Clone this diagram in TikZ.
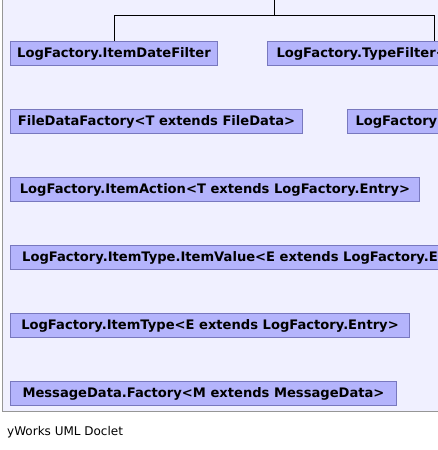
\documentclass[tikz,border=0pt]{standalone}
\usepackage{fontspec}
\setmainfont{DejaVu Sans}
\definecolor{panelfill}{RGB}{240,240,255}
\definecolor{panelline}{RGB}{150,150,150}
\definecolor{boxfill}{RGB}{180,180,252}
\definecolor{boxline}{RGB}{120,120,190}
\tikzset{
  umlbox/.style={draw=boxline, fill=boxfill, line width=1pt, anchor=north west,
    font=\bfseries\fontsize{13.1}{15}\selectfont, inner xsep=4pt, inner ysep=7.5pt,
    text height=9pt, text depth=0pt, minimum height=24pt},
  link/.style={draw=black, line width=1pt},
}
\begin{document}
\begin{tikzpicture}[x=1pt,y=-1pt]
\useasboundingbox (0,0) rectangle (438,450);
\clip (0,0) rectangle (438,450);
\fill[panelfill] (2.5,-5) rectangle (445,411.5);
\draw[panelline, line width=1pt] (2.5,-5) -- (2.5,411.5) -- (445,411.5);

\node[umlbox, minimum width=207pt] (idf) at (10,40.5) {LogFactory.ItemDateFilter};
\node[umlbox, inner xsep=9pt] (tf) at (267,40.5) {LogFactory.TypeFilter<T extends LogFactory.Entry>};
\node[umlbox, minimum width=292pt] (fdf) at (10,108.5) {FileDataFactory<T extends FileData>};
\node[umlbox, inner xsep=8pt] (lf) at (347,108.5) {LogFactory};
\node[umlbox, minimum width=409pt] (ia) at (10,176.5) {LogFactory.ItemAction<T extends LogFactory.Entry>};
\node[umlbox, inner xsep=11.7pt] (iv) at (10,244.5) {LogFactory.ItemType.ItemValue<E extends LogFactory.Entry>};
\node[umlbox, minimum width=399pt] (it) at (10,312.5) {LogFactory.ItemType<E extends LogFactory.Entry>};
\node[umlbox, minimum width=386pt] (mdf) at (10,380.5) {MessageData.Factory<M extends MessageData>};

\coordinate (top) at (274.3,-2);
\coordinate (bus) at (274.3,15);
\draw[link] (top) -- (bus);
\draw[link] (bus) -| (idf.north);
\draw[link] (bus) -| ([xshift=167pt]tf.north west);

\node[anchor=base west, inner sep=0pt, font=\fontsize{12}{14}\selectfont] (foot) at (7,435) {yWorks UML Doclet};
\end{tikzpicture}
\end{document}
